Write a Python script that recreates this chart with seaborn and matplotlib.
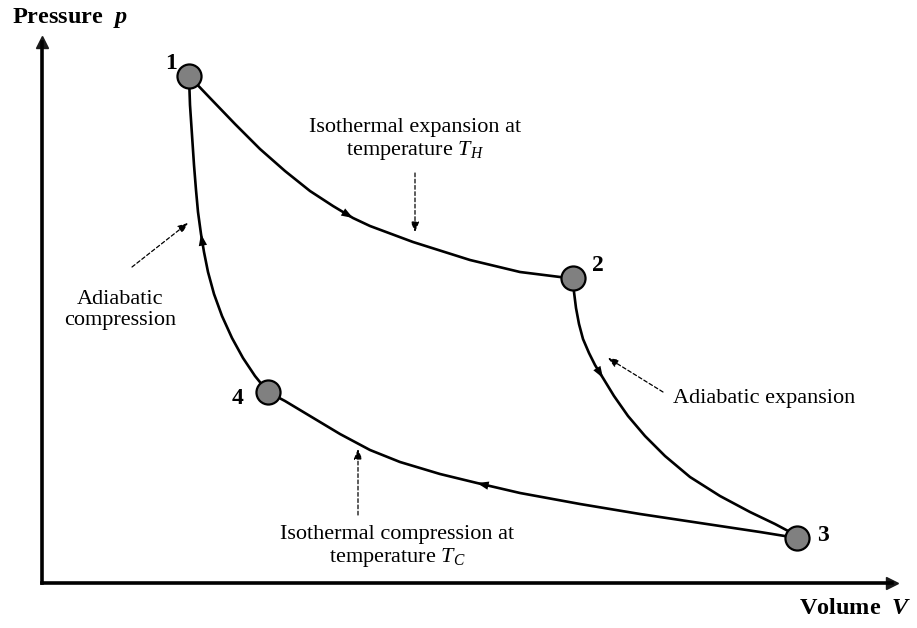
import numpy as np
import pandas as pd
import matplotlib
matplotlib.use("Agg")
import matplotlib.pyplot as plt
import seaborn as sns

# Carnot cycle, values (arbitrary V / p units)
iso_hot_V = [147, 168, 193, 218, 243, 268, 291, 311, 328, 371, 428, 478, 518, 531]
iso_hot_p = [507, 485, 459, 434, 412, 392, 377, 365, 357, 341, 323, 311, 306, 305]

adi_exp_V = [531, 532, 534, 537, 541, 547, 553, 561, 572, 586, 603, 623, 648, 678,
             708, 733, 748, 755]
adi_exp_p = [305, 291, 275, 259, 244, 230, 218, 205, 187, 167, 147, 127, 106, 87,
             71, 59, 51, 45]

iso_cold_V = [755, 718, 658, 598, 538, 478, 435, 398, 358, 328, 298, 268, 243, 226]
iso_cold_p = [45, 51, 60, 69, 79, 90, 100, 109, 121, 133, 149, 167, 182, 191]

adi_comp_V = [226, 213, 201, 190, 180, 172, 166, 162, 159, 156, 154, 152, 150, 148, 147]
adi_comp_p = [191, 207, 225, 245, 267, 289, 311, 331, 349, 371, 393, 418, 448, 478, 507]

# index of the point on each leg where the direction arrow sits
arrow_idx = [7, 7, 6, 8]

state_names = ["1", "2", "3", "4"]
state_V = [147, 531, 755, 226]
state_p = [507, 305, 45, 191]

sns.set_theme(style="white")
plt.rcParams["font.family"] = ["Liberation Serif", "DejaVu Serif"]
plt.rcParams["text.color"] = "black"
plt.rcParams["mathtext.fontset"] = "custom"
plt.rcParams["mathtext.rm"] = "Liberation Serif"
plt.rcParams["mathtext.it"] = "Liberation Serif:italic"
plt.rcParams["mathtext.bf"] = "Liberation Serif:bold"
plt.rcParams["mathtext.bfit"] = "Liberation Serif:italic:bold"

fig = plt.figure(figsize=(9.17, 6.28), dpi=100)
ax = fig.add_axes([42 / 917, 45 / 628, 850 / 917, 541 / 628])
ax.set_xlim(0, 850)
ax.set_ylim(0, 541)
ax.set_xticks([])
ax.set_yticks([])
for side in ["top", "right"]:
    ax.spines[side].set_visible(False)
for side in ["left", "bottom"]:
    ax.spines[side].set_color("black")
    ax.spines[side].set_linewidth(2.6)
ax.plot(1, 0, ">k", ms=9, transform=ax.get_yaxis_transform(), clip_on=False)
ax.plot(0, 1, "^k", ms=9, transform=ax.get_xaxis_transform(), clip_on=False)

legs = [(iso_hot_V, iso_hot_p), (adi_exp_V, adi_exp_p),
        (iso_cold_V, iso_cold_p), (adi_comp_V, adi_comp_p)]
for (V, p), k in zip(legs, arrow_idx):
    df = pd.DataFrame({"V": V, "p": p})
    sns.lineplot(data=df, x="V", y="p", sort=False, color="black", lw=1.9,
                 ax=ax, zorder=2)
    ax.annotate("", xy=(V[k], p[k]), xytext=(V[k - 1], p[k - 1]),
                arrowprops=dict(arrowstyle="-|>,head_length=0.7,head_width=0.25",
                                color="black", lw=0, shrinkA=0, shrinkB=0,
                                mutation_scale=12), zorder=3)

states = pd.DataFrame({"V": state_V, "p": state_p})
sns.scatterplot(data=states, x="V", y="p", s=300, color="#808080",
                edgecolor="black", linewidth=1.6, ax=ax, zorder=4)
offsets = [(-13, 9), (18, 9), (19, 2), (-22, -5)]
for name, v, pp, off in zip(state_names, state_V, state_p, offsets):
    ax.annotate(name, (v, pp), xytext=off, textcoords="offset points",
                ha="center", va="center", fontsize=17, fontweight="bold")

ax.set_xlabel("")
ax.set_ylabel("")

dash = dict(arrowstyle="-|>,head_length=0.6,head_width=0.25", color="black",
            lw=0.9, linestyle=(0, (3, 2)), shrinkA=0, shrinkB=0, mutation_scale=10)

ax.text(373, 443, "Isothermal expansion at\ntemperature $T_H$", ha="center",
        va="center", fontsize=16, linespacing=1.15)
ax.annotate("", xy=(373, 351), xytext=(373, 410), arrowprops=dash)

ax.text(631, 185, "Adiabatic expansion", ha="left", va="center", fontsize=16)
ax.annotate("", xy=(566, 225), xytext=(621, 191), arrowprops=dash)

ax.text(78, 273, "Adiabatic\ncompression", ha="center", va="center",
        fontsize=16, linespacing=1.15)
ax.annotate("", xy=(146, 360), xytext=(90, 316), arrowprops=dash)

ax.text(355, 36, "Isothermal compression at\ntemperature $T_C$", ha="center",
        va="center", fontsize=16, linespacing=1.15)
ax.annotate("", xy=(316, 134), xytext=(316, 68), arrowprops=dash)

ax.text(-30, 565, r"Pressure  $\mathbfit{p}$", ha="left", va="center",
        fontsize=17.5, fontweight="bold", clip_on=False)
ax.text(870, -25, r"Volume  $\mathbfit{V}$", ha="right", va="center",
        fontsize=17.5, fontweight="bold", clip_on=False)

fig.savefig("out.png", dpi=100, facecolor="white")
